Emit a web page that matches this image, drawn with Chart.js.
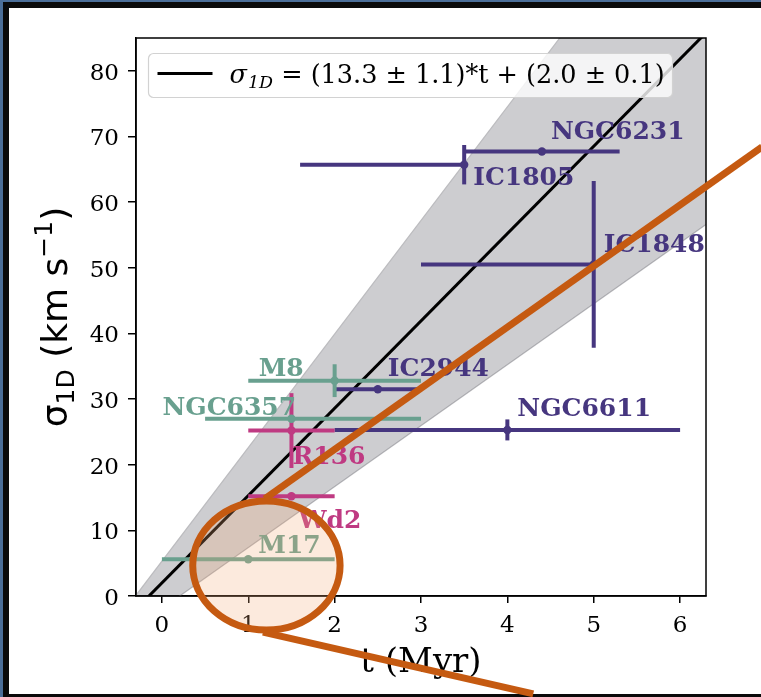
<!DOCTYPE html>
<html>
<head>
<meta charset="utf-8">
<script src="https://cdn.jsdelivr.net/npm/chart.js@4.4.1/dist/chart.umd.min.js"></script>
<style>
    html, body { margin: 0; padding: 0; }
    body { width: 761px; height: 697px; background: #0a0a0a; position: relative; overflow: hidden; }
    .blue-left { position: absolute; left: 0; top: 0; width: 3px; height: 697px; background: #4b6e98; }
    .blue-top { position: absolute; left: 0; top: 0; width: 761px; height: 2px; background: #4b6e98; }
    .paper { position: absolute; left: 9px; top: 8px; width: 752px; height: 686px; background: #fff; }
    #chart { position: absolute; left: 0; top: 0; }
</style>
</head>
<body>
<div class="blue-left"></div>
<div class="blue-top"></div>
<div class="paper"></div>
<canvas id="chart" width="761" height="697"></canvas>
<script>
// cluster data
const names     = ['NGC6231', 'IC1805', 'IC1848', 'IC2944', 'NGC6611', 'M8', 'NGC6357', 'M17', 'R136', 'Wd2'];
const groups    = ['mw', 'mw', 'mw', 'mw', 'mw', 'teal', 'teal', 'teal', 'lmc', 'lmc'];
const ages      = [4.4, 3.5, 5.0, 2.5, 4.0, 2.0, 1.5, 1.0, 1.5, 1.5];
const ageErrLo  = [0.9, 1.9, 2.0, 0.5, 2.0, 1.0, 1.0, 1.0, 0.5, 0.5];
const ageErrHi  = [0.9, 0.0, 0.0, 0.5, 2.0, 1.0, 1.5, 1.0, 0.5, 0.5];
const sigma     = [67.7, 65.7, 50.5, 31.5, 25.3, 32.8, 27.0, 5.6, 25.2, 15.2];
const sigmaErr  = [0, 3.0, 12.7, 0, 1.6, 2.5, 0, 0, 5.7, 0];

// fit line and its shaded band, sampled at the axis limits
const fitT    = [-0.3, 6.3];
const fitY    = [-2.0, 85.8];
const bandHiY = [0.1, 114.3];
const bandLoY = [-4.7, 56.6];

const xTicks = [0, 1, 2, 3, 4, 5, 6];
const yTicks = [0, 10, 20, 30, 40, 50, 60, 70, 80];

// highlight overlay, in data units
const annoEllipse = { t: 1.21, s: 4.65, rt: 0.853, rs: 9.83 };
const annoLines = [
    [[1.19, 14.8], [6.95, 68.4]],
    [[1.17, -5.5], [4.30, -14.9]]
];

const colors = { mw: '#46367f', teal: '#69a08f', lmc: '#bf3a82' };
// label placement relative to the marker, in px (left edge, baseline)
const labelOffsets = [[9, -13], [9, 20], [10, -12], [10, -13], [10, -14], [-76, -5], [-129, -4], [10, -6], [1, 33], [7, 32]];

const serif = '"DejaVu Serif", serif';
const sans = '"DejaVu Sans", sans-serif';

const pts = (xs, ys) => xs.map((x, i) => ({ x, y: ys[i] }));

const datasets = [
    { data: pts(fitT, bandLoY), borderColor: '#bcbcbf', borderWidth: 1.2, pointRadius: 0, fill: false, order: 100 },
    { data: pts(fitT, bandHiY), borderColor: '#bcbcbf', borderWidth: 1.2, pointRadius: 0, fill: '-1', backgroundColor: 'rgba(120,120,128,0.37)', order: 99 },
    { data: pts(fitT, fitY), borderColor: '#000', borderWidth: 3, pointRadius: 0, fill: false, order: 90 }
];

names.forEach((n, i) => {
    const c = colors[groups[i]];
    datasets.push({
        data: [{ x: ages[i] - ageErrLo[i], y: sigma[i] }, { x: ages[i] + ageErrHi[i], y: sigma[i] }],
        borderColor: c, borderWidth: 4, pointRadius: 0, fill: false, order: 50 - i
    });
    if (sigmaErr[i] > 0) {
        datasets.push({
            data: [{ x: ages[i], y: sigma[i] - sigmaErr[i] }, { x: ages[i], y: sigma[i] + sigmaErr[i] }],
            borderColor: c, borderWidth: 4, pointRadius: 0, fill: false, order: 50 - i
        });
    }
});

datasets.push({
    data: pts(ages, sigma),
    showLine: false,
    pointRadius: 4.2,
    pointBorderWidth: 0,
    pointBackgroundColor: groups.map(g => colors[g]),
    order: 1
});

const overlay = {
    id: 'overlay',
    afterDatasetsDraw(chart) {
        const { ctx, scales: { x, y } } = chart;
        ctx.save();
        ctx.font = 'bold 25px ' + serif;
        ctx.textAlign = 'left';
        ctx.textBaseline = 'alphabetic';
        names.forEach((n, i) => {
            ctx.fillStyle = colors[groups[i]];
            const px = x.getPixelForValue(ages[i]);
            const py = y.getPixelForValue(sigma[i]);
            ctx.fillText(n, px + labelOffsets[i][0], py + labelOffsets[i][1]);
        });
        ctx.restore();
    },
    afterDraw(chart) {
        const { ctx, chartArea: a, scales: { x, y } } = chart;
        ctx.save();

        // box around the axes
        ctx.strokeStyle = '#000';
        ctx.lineWidth = 1.5;
        ctx.strokeRect(a.left, a.top, a.right - a.left, a.bottom - a.top);

        // legend
        const lx = a.left + 12.5, ly = a.top + 15.5;
        ctx.beginPath();
        ctx.roundRect(lx, ly, 524, 44, 5);
        ctx.fillStyle = 'rgba(255,255,255,0.8)';
        ctx.fill();
        ctx.strokeStyle = '#d2d2d2';
        ctx.lineWidth = 1.2;
        ctx.stroke();
        ctx.beginPath();
        ctx.moveTo(lx + 9, ly + 20);
        ctx.lineTo(lx + 64, ly + 20);
        ctx.strokeStyle = '#000';
        ctx.lineWidth = 3;
        ctx.stroke();
        ctx.fillStyle = '#000';
        ctx.textBaseline = 'alphabetic';
        ctx.textAlign = 'left';
        let tx = lx + 81;
        const tb = ly + 29;
        ctx.font = 'italic 25.5px ' + serif;
        ctx.fillText('σ', tx, tb);
        tx += ctx.measureText('σ').width + 1;
        ctx.font = 'italic 17.5px ' + serif;
        ctx.fillText('1D', tx, tb + 5);
        tx += ctx.measureText('1D').width;
        ctx.font = '25.5px ' + serif;
        ctx.fillText(' = (13.3 ± 1.1)*t + (2.0 ± 0.1)', tx, tb);

        // x title
        ctx.font = '34px ' + serif;
        ctx.textAlign = 'center';
        ctx.fillText('t (Myr)', (a.left + a.right) / 2, 672);

        // y title with sub/superscript
        const parts = [
            ['σ', 36, 0], ['1D', 25, 7], [' (km s', 36, 0], ['−1', 25, -15], [')', 36, 0]
        ];
        let total = 0;
        parts.forEach(p => { ctx.font = p[1] + 'px ' + sans; total += ctx.measureText(p[0]).width; });
        ctx.translate(67, (a.top + a.bottom) / 2);
        ctx.rotate(-Math.PI / 2);
        ctx.textAlign = 'left';
        let ox = -total / 2;
        parts.forEach(p => {
            ctx.font = p[1] + 'px ' + sans;
            ctx.fillText(p[0], ox, p[2]);
            ox += ctx.measureText(p[0]).width;
        });
        ctx.setTransform(1, 0, 0, 1, 0, 0);

        // orange highlight
        const cx = x.getPixelForValue(annoEllipse.t);
        const cy = y.getPixelForValue(annoEllipse.s);
        const rx = x.getPixelForValue(annoEllipse.t + annoEllipse.rt) - cx;
        const ry = cy - y.getPixelForValue(annoEllipse.s + annoEllipse.rs);
        ctx.beginPath();
        ctx.ellipse(cx, cy, rx, ry, 0, 0, Math.PI * 2);
        ctx.fillStyle = 'rgba(245,170,120,0.25)';
        ctx.fill();
        ctx.strokeStyle = '#c55a11';
        ctx.lineWidth = 7;
        ctx.stroke();
        ctx.lineWidth = 7;
        annoLines.forEach(l => {
            ctx.beginPath();
            ctx.moveTo(x.getPixelForValue(l[0][0]), y.getPixelForValue(l[0][1]));
            ctx.lineTo(x.getPixelForValue(l[1][0]), y.getPixelForValue(l[1][1]));
            ctx.stroke();
        });
        ctx.restore();
    }
};

const axisGrid = { display: true, drawOnChartArea: false, drawTicks: true, tickLength: 7, color: '#000', lineWidth: 1.5 };

new Chart(document.getElementById('chart'), {
    type: 'line',
    data: { datasets },
    options: {
        responsive: false,
        animation: false,
        layout: { padding: { left: 0, top: 38, right: 55, bottom: 0 } },
        plugins: { legend: { display: false }, tooltip: { enabled: false } },
        scales: {
            x: {
                type: 'linear',
                min: -0.3,
                max: 6.3,
                afterBuildTicks: s => { s.ticks = xTicks.map(v => ({ value: v })); },
                afterFit: s => { s.height = 101; },
                grid: axisGrid,
                border: { display: true, color: '#000', width: 1.5 },
                ticks: { font: { family: serif, size: 23 }, color: '#000', padding: 9, maxRotation: 0 }
            },
            y: {
                type: 'linear',
                min: 0,
                max: 85,
                afterBuildTicks: s => { s.ticks = yTicks.map(v => ({ value: v })); },
                afterFit: s => { s.width = 136; },
                grid: Object.assign({}, axisGrid, { tickLength: 8 }),
                border: { display: true, color: '#000', width: 1.5 },
                ticks: { font: { family: serif, size: 23 }, color: '#000', padding: 9, labelOffset: 3 }
            }
        }
    },
    plugins: [overlay]
});
</script>
</body>
</html>
